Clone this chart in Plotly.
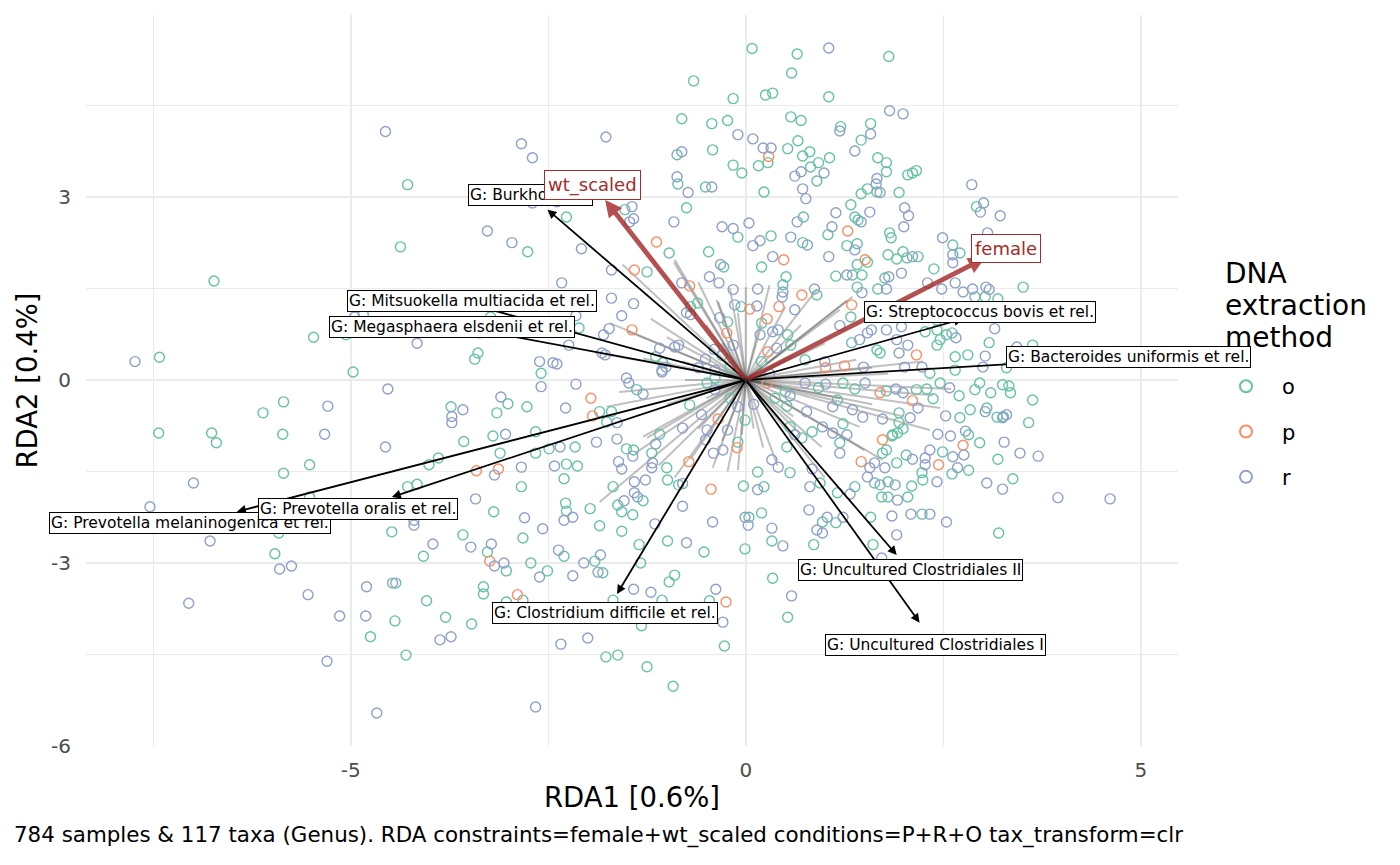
import plotly.graph_objects as go

# sample scores (RDA1, RDA2), split by DNA extraction method
o_pts = [
    (-4.28, 3.2), (-4.37, 2.18), (-6.73, 1.62), (-5.47, 0.70), (-5.06, 0.74), (-4.84, 1.07),
    (-3.39, 0.44), (-3.43, 0.34), (-3.23, 1.03), (-7.42, 0.37), (-4.97, 0.13), (-5.85, -0.36),
    (-6.11, -0.54), (-3.73, -0.44),
    (-7.43, -0.87), (-6.76, -0.87), (-6.7, -1.03), (-5.86, -0.89), (-3.57, -1.01), (-4.01, -1.39),
    (-3.89, -1.28), (-5.85, -1.53), (-5.52, -1.39), (-5.91, -2.51), (-5.96, -2.85), (-4.75, -4.21),
    (-4.44, -3.95), (-4.3, -4.51), (-4.48, -2.49), (-4.28, -1.75), (-4.16, -1.71), (-4.08, -2.89),
    (-4.04, -3.62), (-3.8, -3.89), (-3.47, -4.0), (-3.58, -2.54), (-5.52, -1.92), (-4.43, -3.33),
    (-0.66, 4.9), (-0.16, 4.61), (-0.81, 4.28), (-0.43, 4.2), (-0.23, 4.25), (-0.87, 3.69),
    (-0.42, 3.77), (-0.16, 3.52), (-0.05, 3.39), (-0.86, 3.21), (-0.51, 3.16), (-0.75, 2.82),
    (-2.27, 2.67), (-1.53, 2.79), (-2.76, 2.1), (-1.25, 1.77), (-0.97, 2.08), (-0.47, 2.1),
    (-0.1, 2.34), (-0.28, 1.85), (-0.61, 1.26), (-0.7, 1.2), (-0.06, 1.2), (-0.23, 0.95),
    (-2.11, 0.85), (-1.14, 0.38), (-1.05, 0.28), (-0.2, 0.21),
    (-2.59, 0.11), (-1.38, -0.16), (-0.49, -0.05), (-0.39, 0.03), (-3.01, -0.39), (-3.15, -0.54),
    (-2.77, -0.44), (-1.85, -0.52), (-1.7, -0.52), (-1.76, -0.69), (-3.2, -0.92), (-2.66, -0.85),
    (-3.11, -1.2), (-2.66, -1.2), (-2.49, -1.13), (-2.16, -1.1), (-1.51, -1.13), (-1.42, -1.15),
    (-1.19, -1.2), (-1.09, -0.89), (-0.71, -0.41), (-0.01, -0.66), (-0.1, -1.02), (-0.03, -1.74),
    (-2.84, -1.75), (-2.27, -1.38), (-2.13, -1.41), (-2.3, -1.62), (-1.0, -1.44), (-0.99, -1.64),
    (-0.85, -1.72), (-1.68, -1.75), (-1.3, -1.98), (-1.62, -2.05), (-1.57, -2.16), (-1.43, -2.21),
    (-0.01, -2.77), (-0.99, -2.64), (-0.53, -2.82), (-1.35, -2.7), (-1.33, -3.0), (-1.57, -2.48),
    (-1.85, -2.39), (-1.97, -2.11), (-2.28, -2.02), (-2.27, -2.15), (-2.82, -2.59), (-3.19, -2.16),
    (-3.27, -2.82), (-3.03, -3.13), (-3.32, -3.39), (-3.32, -3.51), (-3.03, -3.64), (-2.82, -3.61),
    (-2.72, -3.0), (-2.51, -3.13), (-2.3, -2.89), (-1.91, -2.97), (-1.81, -3.16), (-1.68, -3.61),
    (-1.06, -3.61), (-0.97, -3.31), (-0.9, -3.2), (-0.46, -3.62), (-0.27, -4.36), (-1.32, -4.03),
    (-1.95, -3.9), (-1.77, -4.54), (-1.62, -4.51), (-1.25, -4.7), (-0.92, -5.02),
    (0.08, 5.43), (0.65, 5.34), (1.81, 5.3), (0.58, 5.03), (0.25, 4.67), (0.34, 4.7),
    (1.05, 4.64), (0.57, 4.31), (0.7, 4.25), (1.2, 4.15), (1.58, 4.2), (1.46, 3.93),
    (0.53, 3.79), (0.66, 3.92), (0.28, 3.56), (0.16, 3.51), (0.72, 3.67), (0.81, 3.74),
    (0.82, 3.49), (0.92, 3.56), (1.06, 3.64), (0.9, 3.26), (0.23, 3.08), (1.67, 3.64),
    (1.78, 3.56), (1.78, 3.41), (1.54, 3.13), (1.46, 3.05), (1.66, 3.08), (1.94, 3.07),
    (2.05, 3.36), (2.11, 3.39), (2.16, 3.43), (2.92, 2.84), (2.62, 2.21), (2.71, 2.08),
    (0.32, 2.36), (0.73, 2.67), (0.72, 2.25), (1.04, 2.38), (1.33, 2.87), (1.38, 2.67),
    (1.42, 2.62), (1.82, 2.41), (1.84, 2.33), (1.28, 2.2), (1.41, 2.23), (0.2, 1.85),
    (1.54, 1.93), (1.41, 1.89), (1.8, 2.05), (1.91, 1.98), (1.99, 2.1), (2.04, 2.0),
    (2.18, 2.02), (2.38, 1.82), (1.76, 1.67), (1.14, 1.7), (1.35, 1.72), (1.47, 1.72),
    (1.41, 1.52), (1.67, 1.49), (3.19, 1.33), (3.51, 1.52), (2.9, 1.36), (3.03, 1.36),
    (0.47, 1.56), (0.51, 1.69), (0.9, 1.39), (0.2, 0.93), (0.53, 0.74), (0.57, 0.57),
    (1.33, 1.03), (1.34, 0.61), (1.66, 0.49), (1.7, 0.44), (2.27, 0.79), (2.42, 0.82),
    (2.46, 0.66), (2.54, 0.74), (2.61, 0.77), (2.42, 0.57), (2.42, 0.98), (2.62, 1.02),
    (3.08, 0.61), (2.81, 0.41), (2.65, 0.38), (3.3, 0.2), (3.63, 0.57), (0.75, 0.33),
    (2.33, 0.11), (2.65, 0.16),
    (0.92, -0.13), (1.23, -0.05), (1.38, -0.15), (1.78, -0.18), (2.16, -0.16), (2.29, -0.15),
    (2.37, -0.31), (2.46, -0.05), (2.7, -0.26), (2.9, -0.16), (2.96, -0.05), (3.1, -0.21),
    (3.25, -0.08), (3.35, -0.21), (3.63, -0.33), (0.52, -0.43), (0.37, -0.3), (1.16, -0.33),
    (1.94, -0.54), (1.94, -0.7), (1.99, -0.8), (1.92, -0.87), (1.85, -0.92), (2.71, -0.62),
    (2.84, -0.49), (3.05, -0.46), (3.18, -0.61), (3.58, -0.7), (2.82, -0.9), (2.96, -1.03),
    (3.19, -1.3), (3.38, -1.62), (3.2, -2.51), (1.86, -0.9), (2.49, -1.18), (2.03, -1.23),
    (1.91, -1.36), (1.73, -1.2), (1.78, -1.15), (1.63, -1.69), (1.8, -1.67), (1.72, -1.92),
    (1.8, -1.92), (2.05, -1.92), (2.1, -1.74), (2.23, -1.52), (2.24, -1.64), (2.61, -1.54),
    (2.82, -1.48), (1.38, -1.75), (1.16, -1.85), (0.94, -1.69), (1.19, -1.03), (0.84, -0.85),
    (0.71, -0.95), (1.23, -0.72), (0.56, -0.77), (0.52, -1.1), (0.56, -1.52), (0.15, -1.51),
    (0.23, -1.75), (0.97, -2.33), (1.14, -2.34), (1.58, -2.25), (2.23, -2.2), (1.61, -2.7),
    (0.04, -2.25), (0.2, -2.18), (0.33, -2.64), (0.86, -2.7), (0.34, -3.25), (0.53, -3.89),
    (3.33, -0.1), (3.26, -0.6), (0.2, 0.3), (-0.3, 0.4), (0.5, -0.2), (-0.2, -0.3),
]

p_pts = [
    (-3.41, -1.49),
    (-1.41, 1.8), (-1.13, 2.26), (-0.71, 1.54), (-0.24, 0.77), (-1.44, 0.82),
    (-1.96, -0.3), (-1.94, -0.59), (-0.35, -0.64), (-0.11, -1.11), (-0.72, -1.34), (-0.44, -1.79),
    (-3.13, -1.46), (-3.24, -2.97), (-2.89, -3.52), (-0.25, -3.64),
    (0.29, 3.66), (1.29, 2.44), (0.48, 1.97), (1.51, 1.97), (0.71, 1.39), (0.42, 1.2),
    (0.05, 1.16), (0.27, 1.0), (0.28, 0.46), (1.34, 1.23), (2.16, 0.41), (1.01, 0.2), (1.25, 0.23),
    (0.27, -0.05), (1.7, -0.21), (2.11, -0.34), (2.75, -1.07), (1.73, -0.98), (2.44, -1.39),
    (1.46, -1.34),
]

r_pts = [
    (-4.56, 4.07), (-4.95, 1.03), (-4.16, 0.6), (-3.37, 0.77), (-7.73, 0.3), (-4.53, -0.15),
    (-5.29, -0.43), (-3.58, -0.49), (-3.72, -0.6), (-3.72, -0.7),
    (-5.33, -0.89), (-4.56, -1.1), (-6.99, -1.69), (-7.54, -2.08), (-6.78, -2.64), (-5.9, -3.1),
    (-5.75, -3.05), (-7.05, -3.66), (-5.54, -3.52), (-5.14, -3.87), (-5.3, -4.61), (-4.67, -5.46),
    (-4.8, -3.39), (-4.47, -3.33), (-4.81, -3.87), (-4.2, -2.38), (-4.2, -2.3), (-3.87, -4.26),
    (-3.73, -4.21), (-3.96, -2.69), (-3.48, -2.74), (-3.42, -1.95),
    (-0.1, 4.02), (-1.77, 3.98), (-2.84, 3.87), (-2.7, 3.64), (-0.81, 3.74), (-0.87, 3.33),
    (-0.43, 3.16), (-0.73, 3.07), (-2.7, 2.9), (-2.39, 2.92), (-1.44, 2.84), (-1.42, 2.64),
    (-1.47, 2.59), (-3.27, 2.44), (-2.96, 2.25), (-2.08, 2.15), (-2.33, 1.59), (-1.7, 1.8),
    (-0.91, 2.59), (-0.3, 2.51), (-0.16, 2.48), (-0.32, 1.89), (-0.46, 1.69), (-0.34, 1.59),
    (-0.81, 1.59), (-0.16, 1.48), (-0.75, 1.1), (-0.7, 1.07), (-0.14, 1.23), (-0.33, 1.02),
    (-0.16, 0.57), (-1.7, 1.34), (-1.42, 1.25), (-1.57, 1.05), (-1.73, 0.84), (-1.8, 0.74),
    (-2.15, 1.05), (-2.24, 0.57), (-2.61, 0.3), (-2.44, 0.28), (-2.39, 0.26), (-1.82, 0.44),
    (-1.78, 0.41), (-1.09, 0.52), (-0.9, 0.54), (-0.85, 0.57), (-1.01, 0.21), (-1.06, 0.16),
    (-0.51, 0.34), (-1.51, 0.03), (-0.39, 0.16),
    (-2.59, -0.11), (-2.15, -0.07), (-1.48, -0.05), (-1.3, -0.23), (-1.06, 0.13), (-0.39, -0.16),
    (-3.1, -0.28), (-2.28, -0.46), (-1.63, -0.7), (-3.04, -0.89), (-2.35, -1.1), (-1.89, -1.02),
    (-1.63, -0.97), (-1.43, -1.25), (-1.14, -1.05), (-0.8, -0.79), (-0.56, -0.57), (-0.49, -0.82),
    (-0.51, -0.98), (-0.23, -0.82), (-0.1, -0.44), (-0.29, -1.15), (-0.41, -1.2), (-3.18, -1.56),
    (-2.84, -1.43), (-2.42, -1.41), (-1.61, -1.34), (-1.57, -1.46), (-1.18, -1.36), (-1.19, -1.44),
    (-0.8, -1.7), (-1.27, -1.64), (-1.41, -1.67), (-1.41, -1.85), (-1.37, -1.92), (-1.54, -1.98),
    (-0.8, -2.07), (-0.42, -2.33), (-0.01, -2.25), (-1.15, -2.36), (-0.75, -2.67), (-2.19, -2.25),
    (-2.3, -2.3), (-2.8, -2.26), (-2.57, -2.44), (-3.22, -2.69), (-3.18, -3.05), (-3.06, -3.0),
    (-2.61, -3.23), (-2.37, -2.79), (-2.19, -3.21), (-2.05, -3.0), (-1.84, -2.87), (-1.87, -3.15),
    (-1.42, -3.43), (-1.2, -3.48), (-0.38, -3.43), (-0.29, -3.97), (-2.0, -4.23), (-2.34, -4.33),
    (-2.66, -5.36),
    (1.05, 5.44), (1.82, 4.41), (1.99, 4.36), (1.19, 4.08), (1.58, 4.03), (1.38, 3.75),
    (0.09, 3.95), (0.22, 3.8), (0.32, 3.8), (0.7, 3.41), (0.62, 3.34), (0.99, 3.39),
    (0.72, 3.13), (0.76, 2.97), (1.66, 3.3), (1.65, 3.21), (1.7, 3.07), (2.86, 3.2),
    (3.01, 2.9), (2.97, 2.75), (3.22, 2.69), (3.06, 2.41), (2.49, 2.33), (2.62, 2.05),
    (2.62, 1.92), (0.04, 2.57), (0.09, 2.2), (0.18, 2.28), (0.65, 2.59), (0.57, 2.34),
    (0.78, 2.21), (1.14, 2.74), (1.09, 2.51), (1.46, 2.59), (1.57, 2.75), (2.01, 2.82),
    (2.06, 2.69), (2.0, 2.51), (1.38, 2.13), (1.05, 2.02), (0.34, 2.02), (2.11, 2.02),
    (1.97, 1.75), (1.81, 1.69), (1.28, 1.72), (1.47, 1.43), (1.78, 1.49), (2.3, 1.59),
    (2.48, 1.49), (2.65, 1.59), (2.75, 1.44), (2.87, 1.49), (3.04, 1.52), (3.08, 1.48),
    (0.15, 1.49), (0.47, 1.44), (0.46, 1.36), (0.87, 1.49), (0.62, 1.15), (0.14, 1.21),
    (0.34, 0.79), (0.41, 0.82), (0.18, 0.74), (0.39, 0.52), (1.19, 0.89), (1.44, 0.66),
    (1.54, 0.77), (1.59, 0.82), (1.78, 0.82), (1.97, 0.87), (1.91, 0.66), (2.05, 0.57),
    (1.94, 0.44), (2.66, 0.69), (2.87, 1.05), (3.15, 0.84), (3.03, 0.39), (1.0, 0.3),
    (1.49, 0.21), (2.01, 0.21), (2.23, 0.21), (3.0, 0.21), (3.43, 0.54),
    (0.56, -0.26), (0.75, -0.05), (1.01, -0.07), (1.51, -0.05), (1.9, -0.15), (1.99, -0.21),
    (2.58, -0.13), (0.77, -0.52), (1.1, -0.44), (1.35, -0.49), (1.48, -0.61), (1.73, -0.64),
    (2.08, -0.62), (2.18, -0.46), (2.53, -0.59), (3.03, -0.52), (3.25, -0.62), (3.3, -0.57),
    (2.43, -0.89), (2.59, -0.92), (2.78, -0.84), (3.27, -1.02), (3.47, -1.2), (3.7, -1.25),
    (3.05, -1.69), (3.25, -1.79), (2.33, -1.15), (2.62, -1.26), (2.76, -1.23), (2.27, -1.28),
    (2.27, -1.39), (2.11, -1.3), (1.63, -1.36), (1.57, -1.44), (1.76, -1.44), (1.54, -1.59),
    (1.7, -1.72), (1.89, -1.72), (1.92, -1.97), (2.42, -1.67), (2.68, -1.44), (1.32, -1.87),
    (0.81, -1.75), (0.84, -1.46), (1.19, -1.2), (1.28, -0.9), (1.1, -0.87), (0.97, -0.77),
    (0.62, -0.9), (0.33, -1.31), (0.41, -1.43), (0.15, -1.8), (0.8, -2.13), (1.03, -2.25),
    (0.9, -2.46), (0.97, -2.51), (1.23, -2.25), (1.85, -2.23), (2.09, -2.2), (2.33, -2.2),
    (2.54, -2.33), (1.91, -2.54), (1.72, -2.92), (0.03, -2.38), (0.33, -2.43), (0.47, -2.72),
    (0.58, -3.54), (3.95, -1.93), (4.61, -1.95), (0.3, 0.1), (-0.4, 0.5), (0.1, -0.4), (-0.6, 0.2),
]

# loadings of the unlabelled taxa (drawn as faint lines from the origin)
other_taxa = [
    (-1.56, 1.89), (-0.9, 1.97), (-1.72, 0.93), (-0.37, 1.31), (-0.91, 1.93), (-1.2, 1.0),
    (-1.5, 0.8), (-0.6, 1.6), (-0.2, 1.5), (-1.0, 0.7), (-1.9, 0.45), (-0.8, 0.3),
    (-1.3, 0.35), (-0.5, 0.9), (-0.1, 1.1), (-0.3, 0.6),
    (0.0, 1.52), (0.9, 1.48), (1.35, 1.36), (1.19, 1.15), (1.4, 0.33), (-0.35, 1.28),
    (1.28, 1.3), (0.5, 1.2), (0.3, 1.55), (0.7, 0.9), (1.0, 0.6), (1.6, 0.2),
    (0.2, 0.9), (2.24, 0.3), (1.8, 0.1), (0.6, 0.4),
    (2.33, -0.82), (2.46, -0.46), (2.37, -0.25), (0.96, -1.1), (0.22, -1.11), (1.44, -0.77),
    (1.73, -1.31), (2.0, -0.6), (1.2, -0.3), (0.6, -0.6), (1.6, -0.4), (0.4, -1.4),
    (1.0, -1.6), (0.7, -0.9), (2.6, -0.15), (0.1, -0.8), (1.5, -1.15),
    (-1.76, -0.44), (-1.3, -0.93), (-1.85, -2.0), (-0.42, -1.44), (-0.23, -1.5), (-0.1, -1.48),
    (-0.77, 0.0), (-1.0, -0.4), (-0.6, -0.8), (-1.4, -1.2), (-0.9, -1.6), (-0.3, -1.0),
    (-1.6, -0.2), (-0.5, -0.3), (-1.1, -1.4), (-0.05, -0.9), (-0.7, -1.3), (-1.25, -0.95),
]

# labelled taxa: name, arrow tip, label position
taxa_names = [
    "G: Burkholderia", "G: Mitsuokella multiacida et rel.", "G: Megasphaera elsdenii et rel.",
    "G: Streptococcus bovis et rel.", "G: Bacteroides uniformis et rel.",
    "G: Prevotella melaninogenica et rel.", "G: Prevotella oralis et rel.",
    "G: Clostridium difficile et rel.", "G: Uncultured Clostridiales II",
    "G: Uncultured Clostridiales I",
]
taxa_tips = [(-2.51, 2.79), (-3.45, 1.23), (-3.49, 0.84), (2.75, 1.0), (4.4, 0.34),
             (-6.44, -2.16), (-4.48, -1.92), (-1.63, -3.51), (1.91, -2.87), (2.2, -3.98)]
taxa_labels = [(-2.73, 3.03), (-3.47, 1.3), (-3.72, 0.87), (2.96, 1.11), (4.84, 0.38),
               (-7.04, -2.35), (-4.91, -2.11), (-1.78, -3.82), (2.08, -3.12), (2.4, -4.35)]

# constraint variables
constr_names = ["wt_scaled", "female"]
constr_tips = [(-1.78, 2.95), (3.03, 2.0)]
constr_labels = [(-1.94, 3.19), (3.29, 2.16)]

groups = ["o", "p", "r"]
group_pts = [o_pts, p_pts, r_pts]
colors = ["#66C2A5", "#FC8D62", "#8DA0CB"]
legend_title = ["DNA", "extraction", "method"]

FONT = "DejaVu Sans"
fig = go.Figure()

# faint taxa lines
lx, ly = [], []
for x, y in other_taxa:
    lx += [0, x, None]
    ly += [0, y, None]
fig.add_trace(go.Scatter(x=lx, y=ly, mode="lines", showlegend=False, hoverinfo="skip",
                         line=dict(color="rgba(60,60,60,0.32)", width=2)))

for g, pts, c in zip(groups, group_pts, colors):
    fig.add_trace(go.Scatter(
        x=[p[0] for p in pts], y=[p[1] for p in pts], mode="markers", name=g,
        legendgroup=g,
        marker=dict(symbol="circle-open", size=10, color=c, line=dict(width=1.4, color=c)),
    ))

annots = []
# black taxa arrows
for (tx, ty) in taxa_tips:
    annots.append(dict(x=tx, y=ty, ax=0, ay=0, xref="x", yref="y", axref="x", ayref="y",
                       text="", showarrow=True, arrowhead=2, arrowsize=1, arrowwidth=1.8,
                       arrowcolor="black", standoff=0))
# red constraint arrows
for (tx, ty) in constr_tips:
    annots.append(dict(x=tx, y=ty, ax=0, ay=0, xref="x", yref="y", axref="x", ayref="y",
                       text="", showarrow=True, arrowhead=2, arrowsize=0.7, arrowwidth=4.8,
                       arrowcolor="rgba(165,42,42,0.82)", standoff=0))
for name, (lx_, ly_) in zip(taxa_names, taxa_labels):
    annots.append(dict(x=lx_, y=ly_, xref="x", yref="y", text=name, showarrow=False,
                       font=dict(family=FONT, size=15.5, color="black"),
                       bgcolor="white", bordercolor="black", borderwidth=1, borderpad=1))
for name, (lx_, ly_) in zip(constr_names, constr_labels):
    annots.append(dict(x=lx_, y=ly_, xref="x", yref="y", text=name, showarrow=False,
                       font=dict(family=FONT, size=18, color="#A52A2A"),
                       bgcolor="white", bordercolor="#A52A2A", borderwidth=1, borderpad=3))

annots.append(dict(
    x=-0.0678, y=-0.122, xref="paper", yref="paper", xanchor="left", yanchor="middle",
    showarrow=False, font=dict(family=FONT, size=21.4, color="black"),
    text="784 samples & 117 taxa (Genus). RDA constraints=female+wt_scaled "
         "conditions=P+R+O tax_transform=clr"))
# legend title, one line per annotation
for word, yy in zip(legend_title, [0.6465, 0.6027, 0.5582]):
    annots.append(dict(
        x=1.0412, y=yy, xref="paper", yref="paper", xanchor="left", yanchor="middle",
        showarrow=False, font=dict(family=FONT, size=28, color="black"), text=word))

grid = "#EBEBEB"
fig.update_layout(
    width=1400, height=865,
    margin=dict(l=78, r=230, t=7, b=127),
    plot_bgcolor="white", paper_bgcolor="white",
    font=dict(family=FONT),
    annotations=annots,
    showlegend=True,
    legend=dict(
        x=1.0293, y=0.5197, xanchor="left", yanchor="top",
        font=dict(size=21, color="black"), tracegroupgap=15, itemsizing="constant",
        itemwidth=62,
    ),
    xaxis=dict(
        range=[-8.35, 5.47], tickvals=[-5, 0, 5], ticktext=["-5", "0", "5"],
        showgrid=True, gridcolor=grid, gridwidth=1.8, zeroline=False, showline=False,
        ticks="", tickfont=dict(size=20, color="#4D4D4D"), ticklabelstandoff=10,
        minor=dict(tickvals=[-7.5, -2.5, 2.5], showgrid=True, gridcolor=grid, gridwidth=0.9),
        title=dict(text="RDA1 [0.6%]", font=dict(size=27.5, color="black"), standoff=6),
        automargin=False,
    ),
    yaxis=dict(
        range=[-6.0, 5.98], tickvals=[-6, -3, 0, 3], ticktext=["-6", "-3", "0", "3"],
        showgrid=True, gridcolor=grid, gridwidth=1.8, zeroline=False, showline=False,
        ticks="", tickfont=dict(size=20, color="#4D4D4D"), ticklabelstandoff=14,
        minor=dict(tickvals=[-4.5, -1.5, 1.5, 4.5], showgrid=True, gridcolor=grid, gridwidth=0.9),
        title=dict(text="RDA2 [0.4%]", font=dict(size=27.5, color="black"), standoff=5),
        automargin=False,
    ),
)

fig.write_html("out.html")
